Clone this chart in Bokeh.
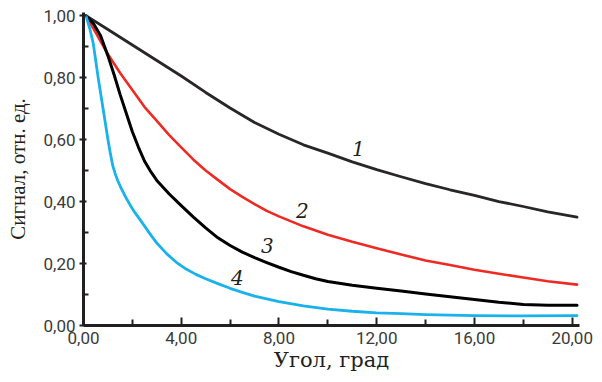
from bokeh.plotting import figure
from bokeh.models import FixedTicker, Range1d
from bokeh.core.properties import value
from bokeh.embed import file_html
from bokeh.resources import INLINE

# --- data ---
x1 = [0.1, 1, 2, 3, 4, 5, 6, 7, 8, 9, 10, 11, 12, 13, 14, 15, 16, 17, 18, 19, 20.2]
y1 = [1.0, 0.955, 0.905, 0.855, 0.805, 0.752, 0.702, 0.655, 0.617, 0.583, 0.556,
      0.528, 0.503, 0.48, 0.458, 0.438, 0.42, 0.40, 0.384, 0.367, 0.35]

x2 = [0.1, 0.5, 1, 1.5, 2, 2.5, 3, 3.5, 4, 4.5, 5, 5.5, 6, 6.5, 7, 7.5, 8, 9, 10,
      11, 12, 13, 14, 15, 16, 17, 18, 19, 20.2]
y2 = [1.0, 0.945, 0.875, 0.815, 0.76, 0.705, 0.66, 0.615, 0.575, 0.535, 0.50, 0.47,
      0.44, 0.415, 0.392, 0.37, 0.352, 0.32, 0.293, 0.27, 0.249, 0.229, 0.21, 0.195,
      0.18, 0.167, 0.155, 0.143, 0.132]

x3 = [0.1, 0.4, 0.7, 1.0, 1.25, 1.5, 1.75, 2.0, 2.25, 2.5, 2.75, 3.0, 3.5, 4.0, 4.5,
      5.0, 5.5, 6.0, 6.5, 7.0, 7.5, 8.0, 8.5, 9.0, 9.5, 10, 11, 12, 13, 14, 15, 16,
      17, 18, 19, 20.2]
y3 = [1.0, 0.975, 0.935, 0.87, 0.81, 0.745, 0.685, 0.625, 0.575, 0.53, 0.497, 0.468,
      0.425, 0.387, 0.35, 0.315, 0.283, 0.258, 0.237, 0.219, 0.203, 0.188, 0.174,
      0.162, 0.151, 0.142, 0.13, 0.12, 0.111, 0.102, 0.093, 0.084, 0.075, 0.068,
      0.065, 0.065]

x4 = [0.1, 0.25, 0.4, 0.6, 0.8, 1.0, 1.1, 1.2, 1.3, 1.4, 1.5, 1.7, 1.9, 2.1, 2.4, 2.7,
      3.0, 3.4, 3.8, 4.2, 4.6, 5.0, 5.5, 6.0, 6.5, 7.0, 8, 9, 10, 11, 12, 13, 14, 16,
      18, 20.2]
y4 = [1.0, 0.96, 0.91, 0.80, 0.70, 0.60, 0.555, 0.515, 0.489, 0.468, 0.45, 0.418,
      0.39, 0.365, 0.332, 0.298, 0.266, 0.232, 0.204, 0.182, 0.165, 0.151, 0.135,
      0.12, 0.107, 0.095, 0.077, 0.063, 0.053, 0.046, 0.041, 0.038, 0.035, 0.032,
      0.031, 0.032]

curve_names = ["1", "2", "3", "4"]
curve_colors = ["#2a2627", "#ee2a24", "#000000", "#19b2ea"]

x_ticks = [0, 4, 8, 12, 16, 20]
x_minor = [2, 6, 10, 14, 18]
x_tick_labels = ["0,00", "4,00", "8,00", "12,00", "16,00", "20,00"]
y_ticks = [0.0, 0.2, 0.4, 0.6, 0.8, 1.0]
y_minor = [0.1, 0.3, 0.5, 0.7, 0.9]
y_tick_labels = ["0,00", "0,20", "0,40", "0,60", "0,80", "1,00"]

# curve number label anchors (data coords)
label_x = [11.25, 8.96, 7.53, 6.3]
label_y = [0.57, 0.37, 0.258, 0.155]

p = figure(width=594, height=374, output_backend="svg", toolbar_location=None,
           x_range=Range1d(0, 20.3), y_range=Range1d(0, 1.01),
           min_border_left=83, min_border_right=15, min_border_top=12, min_border_bottom=49)
p.outline_line_color = None
p.grid.visible = False
p.background_fill_color = "white"

for xs, ys, c, w in zip([x1, x2, x3, x4], [y1, y2, y3, y4], curve_colors, [2.8, 2.6, 3.0, 2.8]):
    p.line(xs, ys, line_color=c, line_width=w, line_join="round", line_cap="round")

p.text(x=label_x, y=label_y, text=curve_names, text_font=value("DejaVu Serif"),
       text_font_style="italic", text_font_size="20px", text_color="#231f20",
       text_align="center", text_baseline="middle")

axis_color = "#231f20"
tick_font = "Roboto"

xa = p.xaxis[0]
xa.ticker = FixedTicker(ticks=x_ticks, minor_ticks=x_minor)
xa.major_label_overrides = {t: l for t, l in zip(x_ticks, x_tick_labels)}
xa.axis_line_width = 3
xa.axis_line_color = axis_color
xa.major_tick_in = 8
xa.major_tick_out = 0
xa.minor_tick_in = 6
xa.minor_tick_out = 0
xa.major_tick_line_width = 2
xa.minor_tick_line_width = 2
xa.major_tick_line_color = axis_color
xa.minor_tick_line_color = axis_color
xa.major_label_text_font = tick_font
xa.major_label_text_font_size = "17px"
xa.major_label_text_color = "#3a3a3a"
xa.major_label_standoff = 6
xa.axis_label = "Угол, град"
xa.axis_label_text_font = "DejaVu Serif"
xa.axis_label_text_font_style = "normal"
xa.axis_label_text_font_size = "21px"
xa.axis_label_text_color = "#231f20"
xa.axis_label_standoff = 1

ya = p.yaxis[0]
ya.ticker = FixedTicker(ticks=y_ticks, minor_ticks=y_minor)
ya.major_label_overrides = {t: l for t, l in zip(y_ticks, y_tick_labels)}
ya.axis_line_width = 3
ya.axis_line_color = axis_color
ya.major_tick_in = 3
ya.major_tick_out = 4
ya.minor_tick_in = 5
ya.minor_tick_out = 0
ya.major_tick_line_width = 2
ya.minor_tick_line_width = 2
ya.major_tick_line_color = axis_color
ya.minor_tick_line_color = axis_color
ya.major_label_text_font = tick_font
ya.major_label_text_font_size = "17px"
ya.major_label_text_color = "#3a3a3a"
ya.major_label_standoff = 4
ya.axis_label = "Сигнал, отн. ед."
ya.axis_label_text_font = "Liberation Serif"
ya.axis_label_text_font_style = "normal"
ya.axis_label_text_font_size = "21px"
ya.axis_label_text_color = "#231f20"
ya.axis_label_standoff = 10

open("out.html", "w").write(file_html(p, INLINE))
